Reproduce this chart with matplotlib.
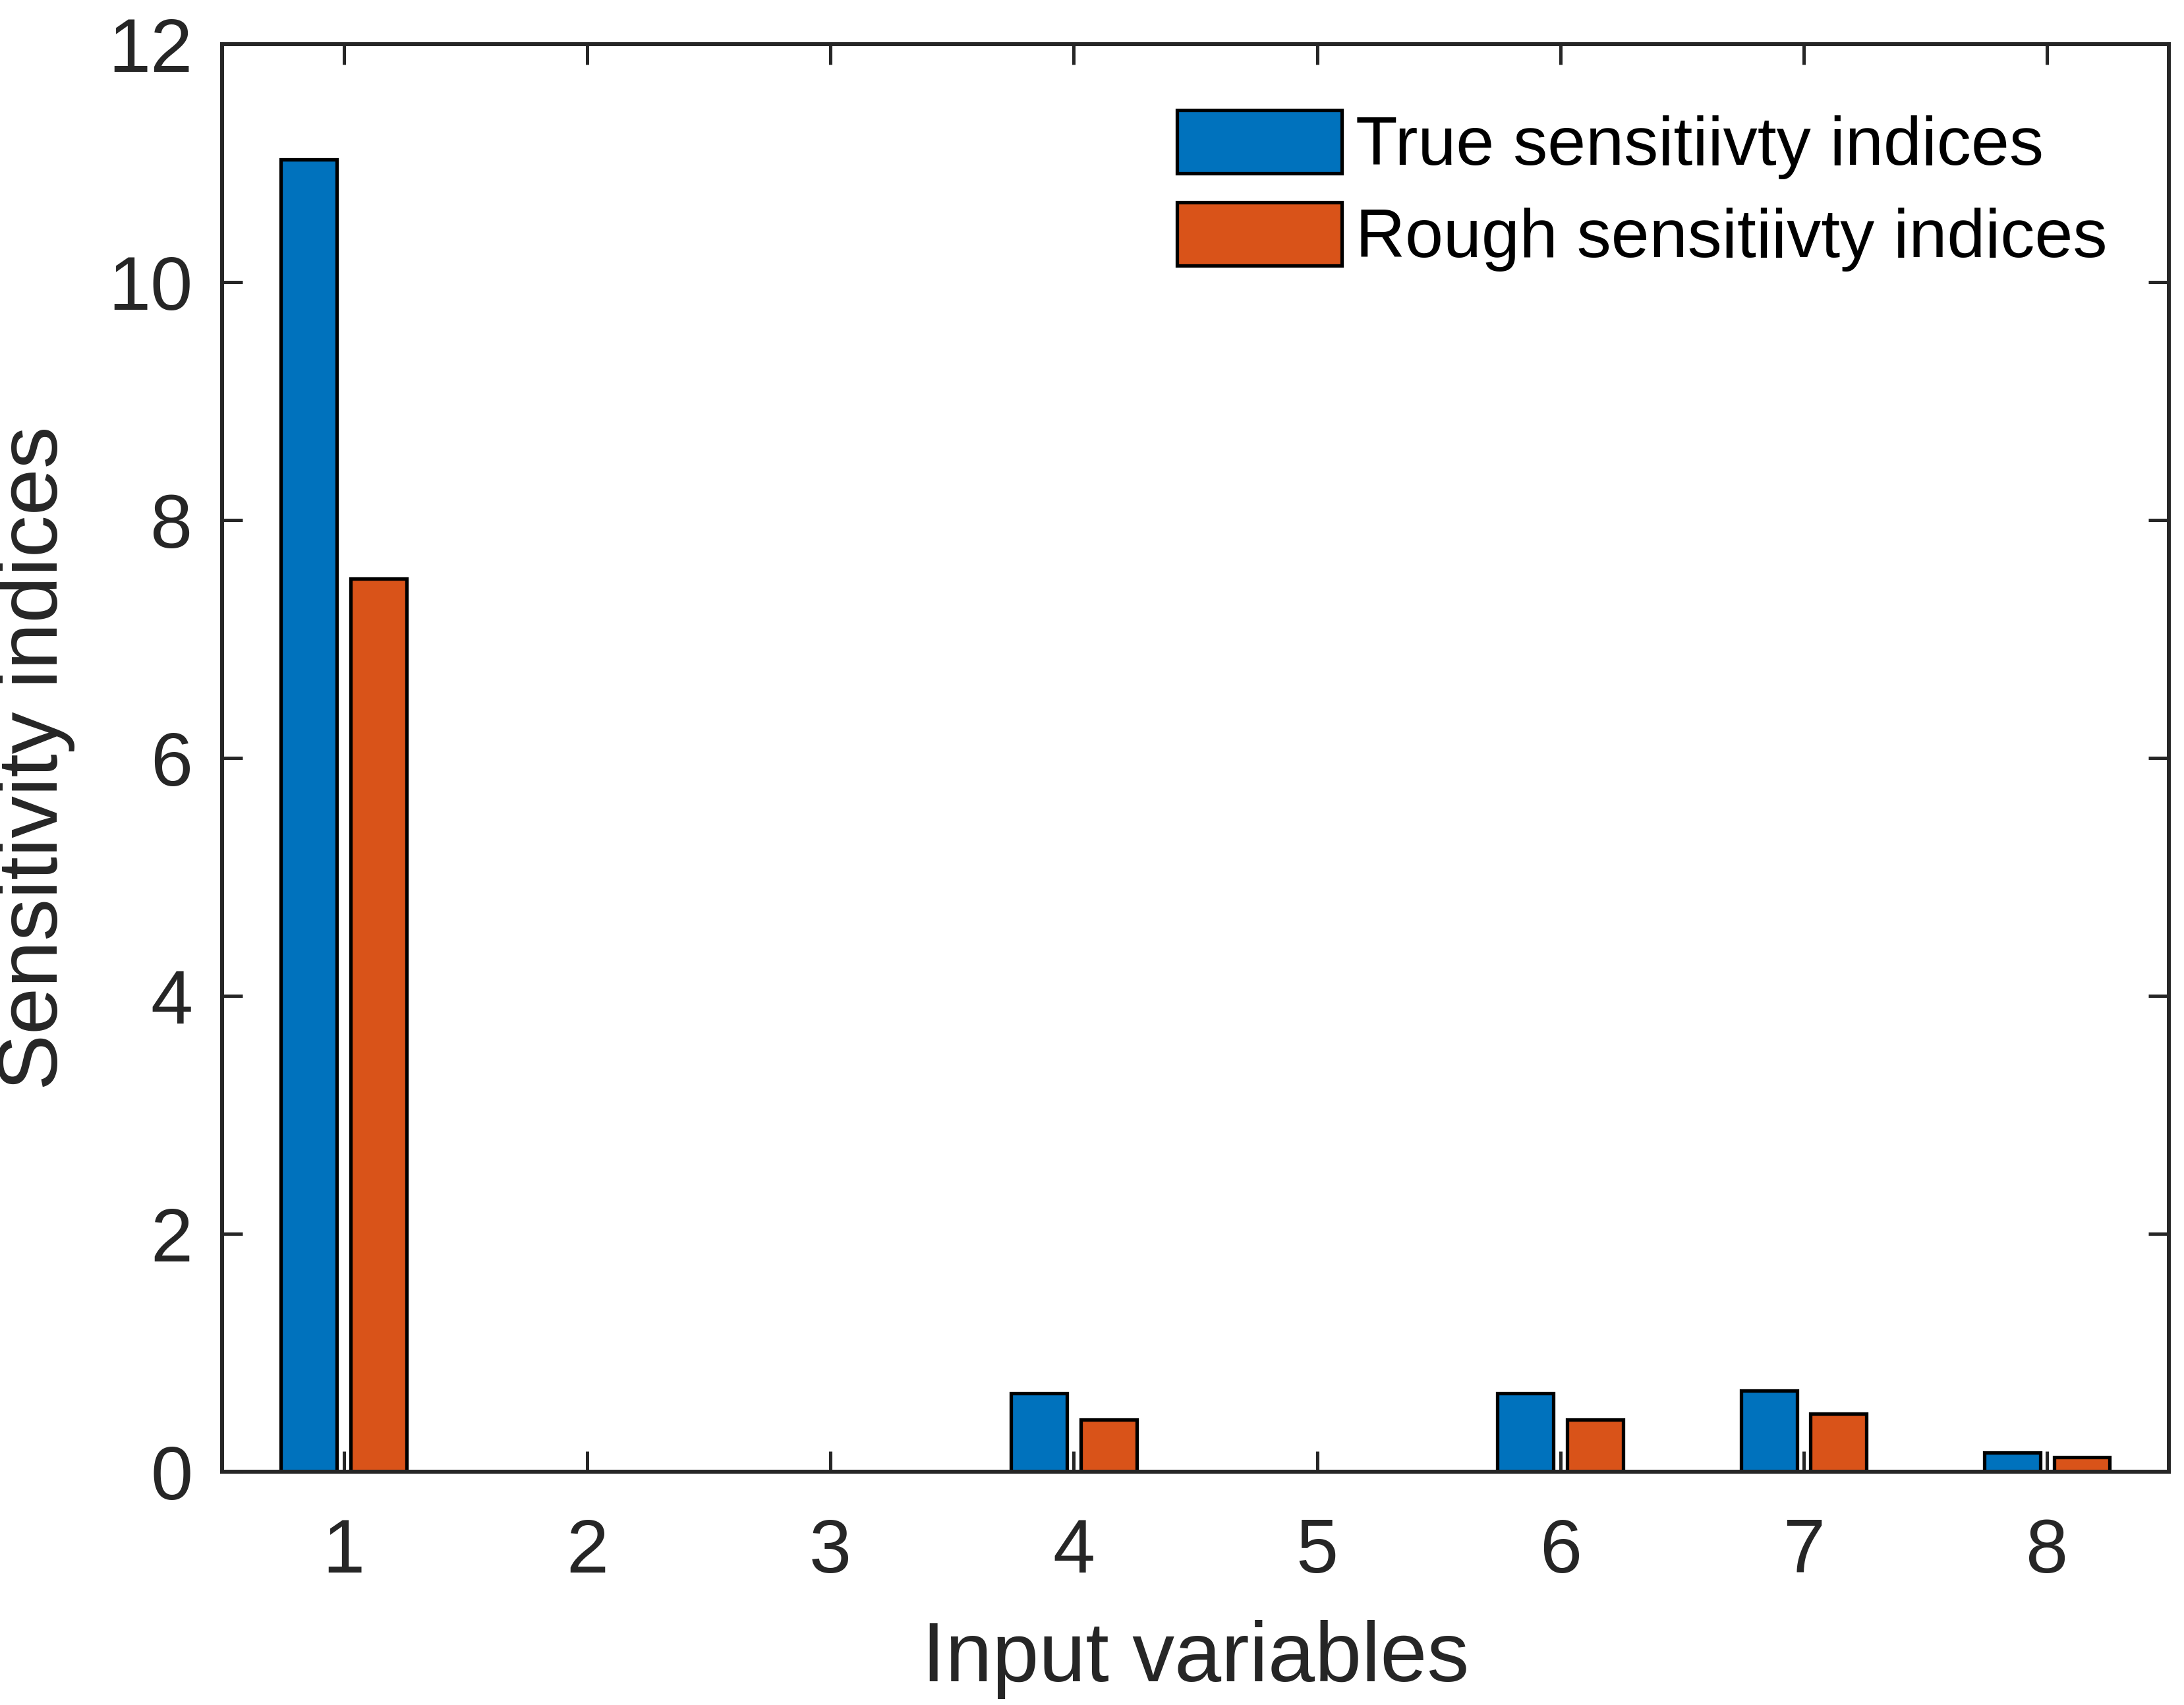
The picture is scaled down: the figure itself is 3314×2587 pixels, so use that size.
import numpy as np
import matplotlib.pyplot as plt

# values
variables = [1, 2, 3, 4, 5, 6, 7, 8]
true_idx = [11.03, 0.0, 0.0, 0.66, 0.0, 0.66, 0.68, 0.16]
rough_idx = [7.51, 0.0, 0.0, 0.44, 0.0, 0.44, 0.49, 0.12]
series_names = ['True sensitiivty indices', 'Rough sensitiivty indices']
yticks = [0, 2, 4, 6, 8, 10, 12]

plt.rcParams['font.family'] = ['Liberation Sans', 'DejaVu Sans']

fig = plt.figure(figsize=(33.14, 25.87), dpi=100)
ax = fig.add_axes([0.1017, 0.1368, 0.8913, 0.8372])

x = np.array(variables)
w = 0.23
off = 0.143
ax.bar(x - off, true_idx, w, color='#0072BD', edgecolor='black', linewidth=3.8,
       label=series_names[0])
ax.bar(x + off, rough_idx, w, color='#D95319', edgecolor='black', linewidth=3.8,
       label=series_names[1])

ax.set_xlim(0.5, 8.5)
ax.set_ylim(0, 12)
ax.set_xticks(variables)
ax.set_yticks(yticks)

for s in ax.spines.values():
    s.set_linewidth(4.3)
    s.set_color('#262626')
ax.tick_params(direction='in', length=22, width=3.6, color='#262626',
               labelsize=83, labelcolor='#262626', top=True, right=True)
ax.tick_params(axis='x', pad=50)
ax.tick_params(axis='y', pad=32)

ax.set_xlabel('Input variables', fontsize=92, color='#262626', labelpad=35)
ax.set_ylabel('Sensitivity indices', fontsize=92, color='#262626', labelpad=36)

ax.legend(loc='upper left', bbox_to_anchor=(0.4905, 0.954), frameon=False,
          fontsize=75, handlelength=2.4, handleheight=1.04, handletextpad=0.2,
          labelspacing=0.33, borderaxespad=0, borderpad=0)

fig.savefig('out.png', dpi=100, facecolor='white')
